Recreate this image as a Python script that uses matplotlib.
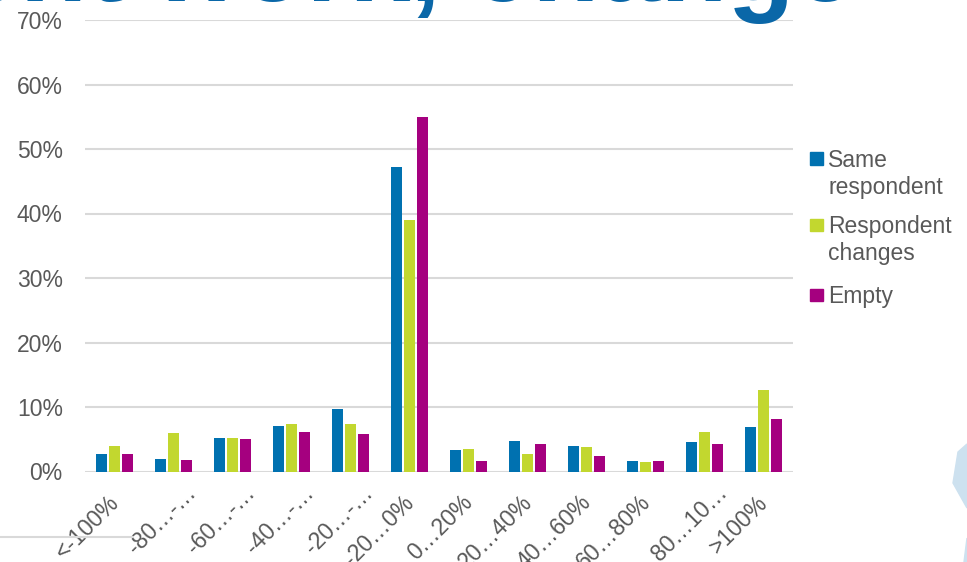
import numpy as np
import matplotlib
matplotlib.use("Agg")
import matplotlib.pyplot as plt
import matplotlib.transforms as mtransforms
from matplotlib.patches import Polygon, Rectangle
from matplotlib.lines import Line2D

plt.rcParams['font.family'] = ['Liberation Sans', 'DejaVu Sans']

categories = ["<-100%", "-80…-…", "-60…-…", "-40…-…", "-20…-…", "-20…0%",
              "0…20%", "20…40%", "40…60%", "60…80%", "80…10…", ">100%"]
same_resp = [2.75, 1.9, 5.2, 7.0, 9.7, 47.2, 3.4, 4.8, 4.0, 1.7, 4.6, 6.9]
resp_changes = [3.9, 5.9, 5.2, 7.3, 7.3, 39.0, 3.5, 2.75, 3.85, 1.55, 6.2, 12.6]
empty = [2.75, 1.85, 5.1, 6.2, 5.75, 55.0, 1.7, 4.2, 2.45, 1.7, 4.2, 8.2]
series_names = ["Same\nrespondent", "Respondent\nchanges", "Empty"]
series_colors = ["#0071b0", "#c2d72f", "#a5007f"]
yticks = [0, 10, 20, 30, 40, 50, 60, 70]

W, H = 967, 562
fig = plt.figure(figsize=(W / 100, H / 100), dpi=100)
ax = fig.add_axes([85 / W, 1 - 471.5 / H, (793 - 85) / W, (471.5 - 20) / H])

grey = "#595959"
x = np.arange(len(categories))
step, width = 0.22, 0.175
for i, (vals, col) in enumerate(zip([same_resp, resp_changes, empty], series_colors)):
    ax.bar(x + (i - 1) * step, np.array(vals) / 100, width, color=col, zorder=3)

ax.set_xlim(-0.5, len(categories) - 0.5)
ax.set_ylim(0, 0.7)
ax.set_yticks([v / 100 for v in yticks])
ax.set_yticklabels([f"{v}%" for v in yticks], fontsize=16.5, color=grey)
ax.set_xticks(x)
ax.set_xticklabels(categories, fontsize=16.5, color=grey, rotation=45,
                   ha="right", va="top", rotation_mode="anchor")
ax.tick_params(axis="both", length=0)
ax.tick_params(axis="y", pad=16)
ax.tick_params(axis="x", pad=14)
ax.grid(axis="y", color="#d9d9d9", linewidth=1.5, zorder=0)
for s in ax.spines.values():
    s.set_visible(False)

# PowerPoint puts the truncated labels a bit further up-right
for lab in ax.get_xticklabels():
    if lab.get_text().endswith("…"):
        dx, dy = 11, 10
    else:
        dx, dy = -7, 0
    lab.set_transform(lab.get_transform() +
                      mtransforms.ScaledTranslation(dx / 100, dy / 100, fig.dpi_scale_trans))

# legend drawn by hand so the square sits at the first line
leg_y = [166.7, 233, 303]
for name, col, yb in zip(series_names, series_colors, leg_y):
    fig.patches.append(Rectangle((810 / W, 1 - (yb - 2) / H), 13 / W, 12.5 / H,
                                 transform=fig.transFigure, color=col))
    for k, line in enumerate(name.split("\n")):
        fig.text(828 / W, 1 - (yb + 27 * k) / H, line, fontsize=16.5, color=grey,
                 ha="left", va="baseline")

# cut-off slide title
fig.text(855 / W, 1 - 1 / H, "ent work, change", ha="right", va="baseline",
         fontsize=79, fontweight="bold", color="#0a67a8")

# slide decorations
fig.lines.append(Line2D([0, 133 / W], [1 - 537 / H, 1 - 537 / H],
                        transform=fig.transFigure, color="#d9d9d9", lw=1.5))
for pts in ([(958, 452), (967, 444), (967, 508), (953, 483)],
            [(967, 538), (964, 562), (967, 562)]):
    fig.patches.append(Polygon([(px / W, 1 - py / H) for px, py in pts],
                               transform=fig.transFigure, color="#cde1ef"))

fig.savefig("out.png", dpi=100)
